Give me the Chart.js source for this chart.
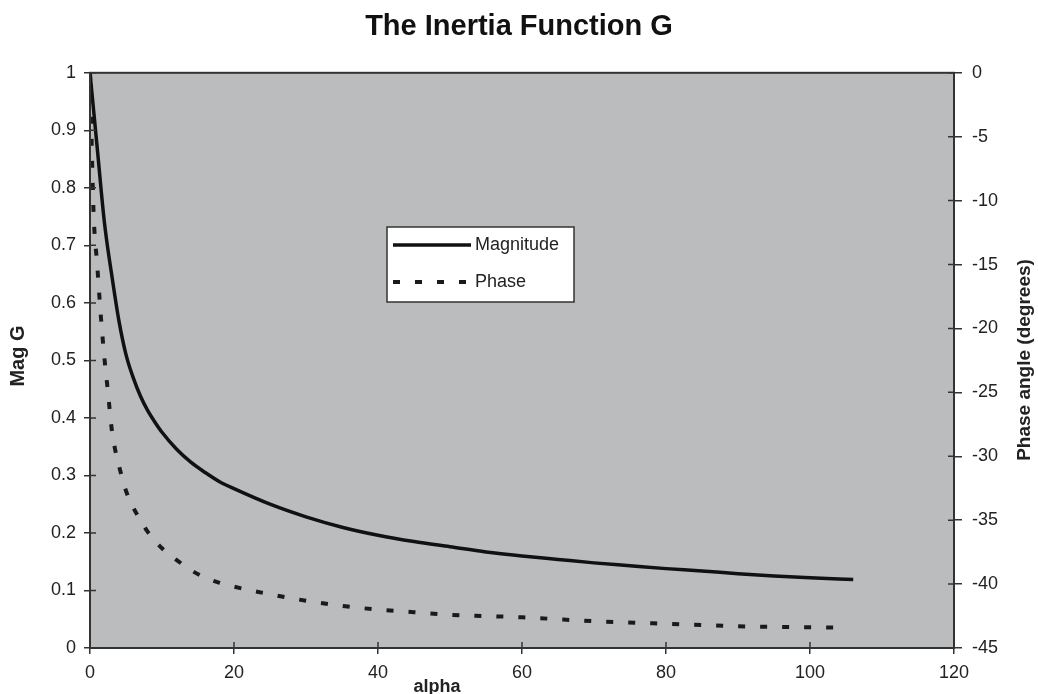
<!DOCTYPE html>
<html>
<head>
<meta charset="utf-8">
<script src="https://cdn.jsdelivr.net/npm/chart.js@4/dist/chart.umd.min.js"></script>
<style>
  html, body { margin: 0; padding: 0; background: #fff; }
  #wrap { width: 1038px; height: 694px; }
</style>
</head>
<body>
<div id="wrap"><canvas id="chart"></canvas></div>
<script>
// alpha values and readings taken off the plot
const magAlpha = [0, 1, 2, 3, 4, 5, 6, 7, 8, 9, 10, 12, 14, 16, 18, 20, 25, 30, 35, 40, 45, 50, 55, 60, 65, 70, 75, 80, 85, 90, 95, 100, 106];
const magValues = [1.0, 0.87, 0.74, 0.65, 0.57, 0.51, 0.47, 0.438, 0.413, 0.393, 0.375, 0.346, 0.323, 0.305, 0.289, 0.277, 0.25, 0.228, 0.21, 0.196, 0.185, 0.176, 0.167, 0.16, 0.154, 0.148, 0.143, 0.138, 0.134, 0.129, 0.125, 0.122, 0.119];

const phaseAlpha = [0, 0.5, 1, 1.5, 2, 2.5, 3, 3.5, 4, 5, 6, 7, 8, 10, 12, 14, 16, 18, 20, 25, 30, 35, 40, 45, 50, 55, 60, 70, 80, 90, 104];
const phaseValues = [0, -11, -15, -19, -22.3, -25, -27.8, -29.5, -30.7, -32.7, -34, -35, -35.9, -37.2, -38.1, -38.9, -39.5, -39.9, -40.2, -40.8, -41.3, -41.7, -42, -42.2, -42.4, -42.5, -42.6, -42.9, -43.1, -43.3, -43.4];

const xTitle = 'alpha';
const yTitle = 'Mag G';
const y2Title = 'Phase angle (degrees)';

const toPoints = (xs, ys) => xs.map((x, i) => ({ x: x, y: ys[i] }));

const ink = '#222';
const plotGrey = '#babcbe';

// grey plot area + frame
const plotFrame = {
    id: 'plotFrame',
    beforeDraw(chart) {
        const a = chart.chartArea, c = chart.ctx;
        c.save();
        c.fillStyle = plotGrey;
        c.fillRect(a.left, a.top, a.right - a.left, a.bottom - a.top);
        c.restore();
    },
    afterDatasetsDraw(chart) {
        const a = chart.chartArea, c = chart.ctx;
        c.save();
        c.strokeStyle = '#333';
        c.lineWidth = 2;
        c.strokeRect(a.left, a.top, a.right - a.left, a.bottom - a.top);
        // inner half of the tick marks
        c.lineWidth = 1.5;
        c.beginPath();
        chart.scales.x.ticks.forEach((t, i) => {
            const px = chart.scales.x.getPixelForTick(i);
            c.moveTo(px, a.bottom); c.lineTo(px, a.bottom - 6);
        });
        chart.scales.y.ticks.forEach((t, i) => {
            const py = chart.scales.y.getPixelForTick(i);
            c.moveTo(a.left, py); c.lineTo(a.left + 6, py);
        });
        chart.scales.y2.ticks.forEach((t, i) => {
            const py = chart.scales.y2.getPixelForTick(i);
            c.moveTo(a.right, py); c.lineTo(a.right - 6, py);
        });
        c.stroke();
        c.restore();
    }
};

// axis titles placed like the original sheet
const axisTitles = {
    id: 'axisTitles',
    afterDraw(chart) {
        const c = chart.ctx;
        c.save();
        c.fillStyle = ink;
        c.font = 'bold 18px "Liberation Sans", Arial, sans-serif';
        c.textAlign = 'center';
        c.textBaseline = 'middle';
        c.fillText(xTitle, chart.scales.x.getPixelForValue(48.2), 687);

        c.font = 'bold 20px "Liberation Sans", Arial, sans-serif';
        c.save();
        c.translate(18, 356);
        c.rotate(-Math.PI / 2);
        c.fillText(yTitle, 0, 0);
        c.restore();

        c.font = 'bold 19px "Liberation Sans", Arial, sans-serif';
        c.save();
        c.translate(1025, 360);
        c.rotate(-Math.PI / 2);
        c.fillText(y2Title, 0, 0);
        c.restore();
        c.restore();
    }
};

// boxed legend in the middle of the plot
const boxLegend = {
    id: 'boxLegend',
    afterDraw(chart) {
        const c = chart.ctx;
        const x = 387, y = 227, w = 187, h = 75;
        c.save();
        c.fillStyle = '#fff';
        c.fillRect(x, y, w, h);
        c.strokeStyle = '#333';
        c.lineWidth = 1.5;
        c.strokeRect(x, y, w, h);
        c.font = '18px "Liberation Sans", Arial, sans-serif';
        c.textBaseline = 'middle';
        chart.data.datasets.forEach((ds, i) => {
            const ly = y + 18 + i * 37;
            c.strokeStyle = ds.borderColor;
            c.lineWidth = ds.borderWidth;
            c.setLineDash(ds.borderDash || []);
            c.beginPath();
            c.moveTo(x + 6, ly);
            c.lineTo(x + 84, ly);
            c.stroke();
            c.setLineDash([]);
            c.fillStyle = ink;
            c.fillText(ds.label, x + 88, ly);
        });
        c.restore();
    }
};

const tickFont = { family: '"Liberation Sans", Arial, sans-serif', size: 18 };

new Chart(document.getElementById('chart'), {
    type: 'scatter',
    data: {
        datasets: [{
                label: 'Magnitude',
                data: toPoints(magAlpha, magValues),
                yAxisID: 'y',
                showLine: true,
                borderColor: '#111',
                borderWidth: 3.5,
                pointRadius: 0,
                cubicInterpolationMode: 'monotone',
                fill: false
            },
            {
                label: 'Phase',
                data: toPoints(phaseAlpha, phaseValues),
                yAxisID: 'y2',
                showLine: true,
                borderColor: '#1a1a1a',
                borderWidth: 4,
                borderDash: [7, 15],
                pointRadius: 0,
                cubicInterpolationMode: 'monotone',
                fill: false
            }
        ]
    },
    options: {
        responsive: true,
        maintainAspectRatio: false,
        animation: false,
        layout: { padding: 0 },
        plugins: {
            legend: { display: false },
            tooltip: { enabled: false },
            title: {
                display: true,
                text: 'The Inertia Function G',
                color: '#111',
                font: { family: '"Liberation Sans", Arial, sans-serif', size: 29, weight: 'bold' },
                padding: { top: 10, bottom: 28 }
            }
        },
        scales: {
            x: {
                type: 'linear',
                min: 0,
                max: 120,
                ticks: { stepSize: 20, color: ink, font: tickFont, padding: 8, maxRotation: 0 },
                grid: { drawOnChartArea: false, drawTicks: true, tickLength: 6, color: '#333', lineWidth: 1.5 },
                border: { display: true, color: '#333', width: 2 },
                afterFit(scale) { scale.height = 46; }
            },
            y: {
                position: 'left',
                min: 0,
                max: 1,
                ticks: {
                    stepSize: 0.1,
                    color: ink,
                    font: tickFont,
                    padding: 8,
                    callback: v => String(+v.toFixed(1))
                },
                grid: { drawOnChartArea: false, drawTicks: true, tickLength: 6, color: '#333', lineWidth: 1.5 },
                border: { display: true, color: '#333', width: 2 },
                afterFit(scale) { scale.width = 90; }
            },
            y2: {
                position: 'right',
                min: -45,
                max: 0,
                ticks: { stepSize: 5, color: ink, font: tickFont, padding: 10 },
                grid: { drawOnChartArea: false, drawTicks: true, tickLength: 8, color: '#333', lineWidth: 1.5 },
                border: { display: true, color: '#333', width: 2 },
                afterFit(scale) { scale.width = 84; }
            }
        }
    },
    plugins: [plotFrame, axisTitles, boxLegend]
});
</script>
</body>
</html>
